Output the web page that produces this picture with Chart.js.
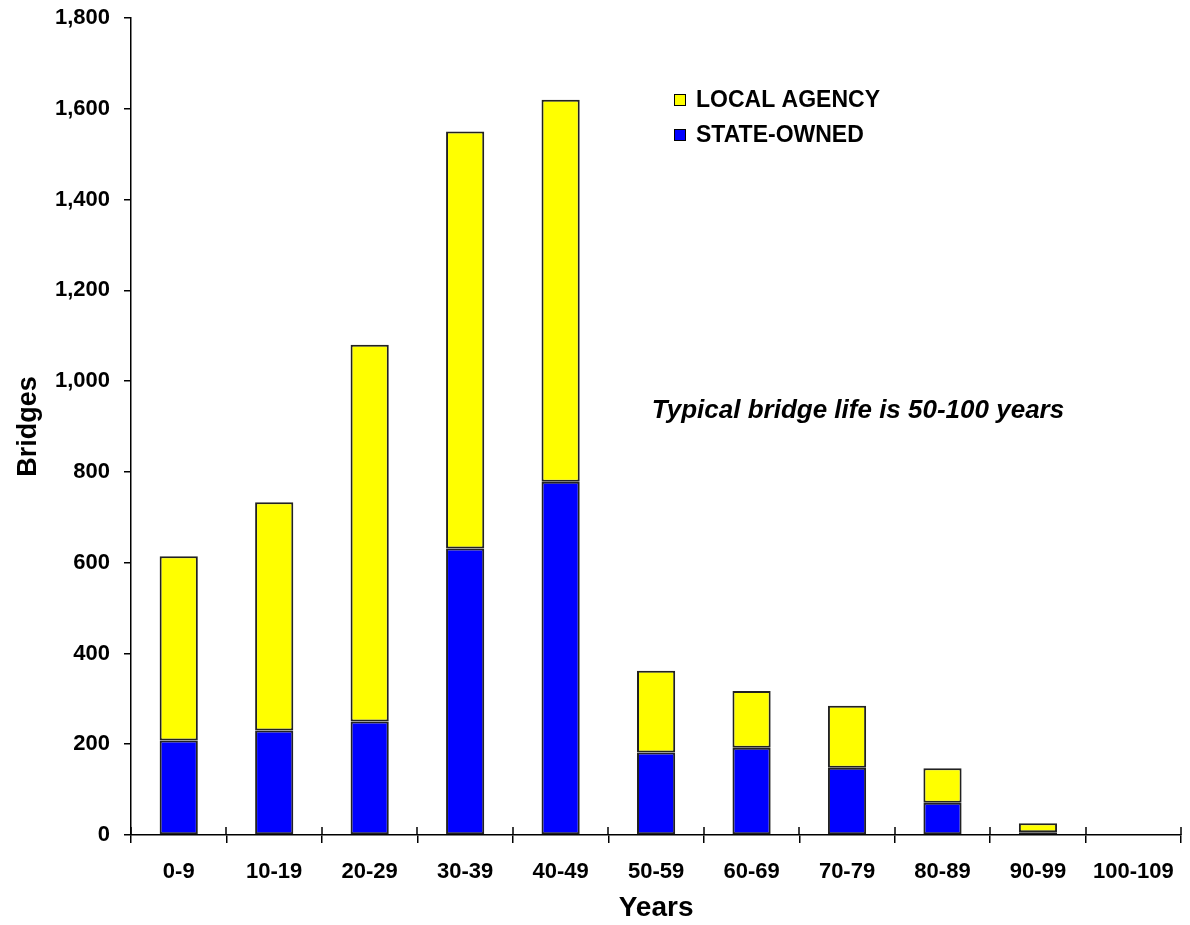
<!DOCTYPE html>
<html>
<head>
<meta charset="utf-8">
<title>Bridges by Age</title>
<script src="https://cdn.jsdelivr.net/npm/chart.js@4/dist/chart.umd.min.js"></script>
<style>
  html, body { margin: 0; padding: 0; background: #ffffff; }
  #wrap { width: 1190px; height: 925px; position: relative; }
</style>
</head>
<body>
<div id="wrap"><canvas id="chart" width="1190" height="925"></canvas></div>
<script>
// Bridge counts per age band (years)
const categories = ['0-9', '10-19', '20-29', '30-39', '40-49', '50-59', '60-69', '70-79', '80-89', '90-99', '100-109'];
const stateOwned = [208, 230, 250, 631, 778, 182, 192, 148, 71, 6, 0];
const localAgency = [406, 503, 830, 919, 842, 180, 125, 137, 76, 20, 0];
const yTickLabels = ['0', '200', '400', '600', '800', '1,000', '1,200', '1,400', '1,600', '1,800'];
const seriesNames = ['STATE-OWNED', 'LOCAL AGENCY'];
const noteText = 'Typical bridge life is 50-100 years';

const FONT = "'Liberation Sans', Arial, Helvetica, sans-serif";

// Tick marks on the category axis cross the axis line: draw the inner half
const crossTicks = {
  id: 'crossTicks',
  afterDraw(chart) {
    const x = chart.scales.x;
    const ctx = chart.ctx;
    const y0 = chart.chartArea.bottom;
    ctx.save();
    ctx.strokeStyle = '#000';
    ctx.lineWidth = 1.5;
    for (let i = 0; i <= categories.length; i++) {
      const px = Math.round(x.getPixelForValue(i - 0.5));
      ctx.beginPath();
      ctx.moveTo(px, y0 - 8);
      ctx.lineTo(px, y0);
      ctx.stroke();
    }
    ctx.restore();
  }
};

// Stacked legend box and note text inside the plot
const legendAndNote = {
  id: 'legendAndNote',
  afterDraw(chart) {
    const ctx = chart.ctx;
    ctx.save();
    const ds = chart.data.datasets;
    const order = [1, 0];
    order.forEach((di, row) => {
      const cy = 100 + row * 35;
      ctx.fillStyle = ds[di].backgroundColor;
      ctx.fillRect(674, cy - 6, 12, 12);
      ctx.strokeStyle = '#000';
      ctx.lineWidth = 1;
      ctx.strokeRect(674.5, cy - 5.5, 11, 11);
      ctx.fillStyle = '#000';
      ctx.font = 'bold 23px ' + FONT;
      ctx.textBaseline = 'middle';
      ctx.textAlign = 'left';
      ctx.fillText(ds[di].label, 696, cy + 1);
    });
    ctx.font = 'italic bold 26px ' + FONT;
    ctx.textBaseline = 'middle';
    ctx.textAlign = 'center';
    ctx.fillStyle = '#000';
    ctx.fillText(noteText, 858, 411);
    ctx.restore();
  }
};

new Chart(document.getElementById('chart'), {
  type: 'bar',
  data: {
    labels: categories,
    datasets: [
      {
        label: seriesNames[0],
        data: stateOwned,
        backgroundColor: '#0000FF',
        borderColor: '#222222',
        borderWidth: 2,
        borderSkipped: false,
        barPercentage: 0.4,
        categoryPercentage: 1.0
      },
      {
        label: seriesNames[1],
        data: localAgency,
        backgroundColor: '#FFFF00',
        borderColor: '#222222',
        borderWidth: 2,
        borderSkipped: false,
        barPercentage: 0.4,
        categoryPercentage: 1.0
      }
    ]
  },
  options: {
    responsive: false,
    animation: false,
    locale: 'en-US',
    layout: { padding: { left: 0, right: 4, top: 18, bottom: 0 } },
    plugins: {
      legend: { display: false },
      tooltip: { enabled: false }
    },
    scales: {
      x: {
        stacked: true,
        offset: true,
        afterFit(scale) { scale.height = 90; },
        grid: {
          offset: true,
          drawOnChartArea: false,
          drawTicks: true,
          tickLength: 8,
          color: '#000',
          lineWidth: 1.5
        },
        border: { display: true, color: '#000', width: 1.5 },
        ticks: {
          color: '#000',
          padding: 16,
          maxRotation: 0,
          autoSkip: false,
          font: { family: FONT, size: 22, weight: 'bold' }
        },
        title: {
          display: true,
          text: 'Years',
          color: '#000',
          padding: { top: 0, bottom: 0 },
          font: { family: FONT, size: 28, weight: 'bold' }
        }
      },
      y: {
        stacked: true,
        min: 0,
        max: 1800,
        afterFit(scale) {
          scale.width = 131;
          scale.paddingTop = 0;
          scale.paddingBottom = 0;
        },
        grid: {
          drawOnChartArea: false,
          drawTicks: true,
          tickLength: 7,
          color: '#000',
          lineWidth: 1.5
        },
        border: { display: true, color: '#000', width: 1.5 },
        ticks: {
          stepSize: 200,
          color: '#000',
          padding: 14,
          font: { family: FONT, size: 22, weight: 'bold' },
          callback: (value, index) => yTickLabels[index]
        },
        title: {
          display: true,
          text: 'Bridges',
          color: '#000',
          padding: { top: 12, bottom: 0 },
          font: { family: FONT, size: 27, weight: 'bold' }
        }
      }
    }
  },
  plugins: [crossTicks, legendAndNote]
});
</script>
</body>
</html>
